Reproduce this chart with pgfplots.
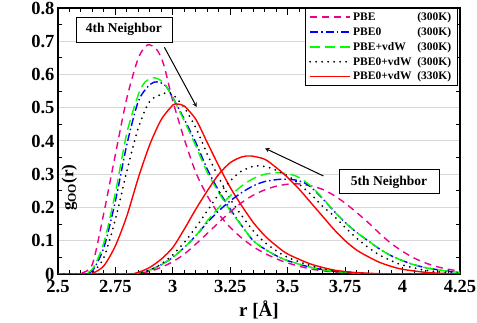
\documentclass[border=0pt]{standalone}
\usepackage{fontspec}
\setmainfont{Liberation Serif}
\usepackage{pgfplots}
\pgfplotsset{compat=1.18}

\definecolor{gridgray}{RGB}{215,215,215}

\begin{document}
\begin{tikzpicture}
\begin{axis}[
    scale only axis,
    width=402pt, height=266pt,
    xmin=2.5, xmax=4.25,
    ymin=0, ymax=0.8,
    xtick={2.5,2.75,3,3.25,3.5,3.75,4,4.25},
    xticklabels={2.5,2.75,3,3.25,3.5,3.75,4,4.25},
    ytick={0,0.1,0.2,0.3,0.4,0.5,0.6,0.7,0.8},
    yticklabels={0,0.1,0.2,0.3,0.4,0.5,0.6,0.7,0.8},
    minor x tick num=4,
    minor y tick num=1,
    ymajorgrids=true,
    major grid style={draw=gridgray, line width=1pt},
    major y tick style={draw=none},
    major tick length=7pt,
    minor tick length=4pt,
    tick style={black, line width=1pt},
    axis line style={line width=1.3pt},
    tick label style={font=\fontsize{18.5}{18.5}\selectfont\bfseries},
    /pgf/number format/assume math mode=true,
    xticklabel style={yshift=-3pt},
    xlabel={\textbf{r [Å]}},
    ylabel={\textbf{g}\textsubscript{\textbf{OO}}\textbf{(r)}},
    xlabel style={font=\fontsize{19}{19}\selectfont\bfseries,
        at={(axis description cs:0.5,0)}, anchor=north, yshift=-22.8pt},
    ylabel style={font=\fontsize{17}{17}\selectfont\bfseries,
        at={(axis description cs:0,0.52)}, anchor=north, xshift=-52pt},
    legend style={at={(0.994,1)}, anchor=north east, draw=black, line width=0.8pt,
        font=\fontsize{11.5}{12}\selectfont\bfseries, row sep=1.4pt,
        inner xsep=4pt, inner ysep=2pt},
    legend cell align=left,
    legend image code/.code={\draw[#1, sharp plot] (0pt,0pt) -- (40pt,0pt);},
    every axis plot/.append style={line width=1.4pt, smooth, tension=0.45},
]
\coordinate (bl) at (rel axis cs:0,0);
\coordinate (tr) at (rel axis cs:1,1);
% 4th neighbor
\addplot[magenta, dash pattern=on 7pt off 5pt] coordinates {
(2.5,0) (2.55,0) (2.6,0.002) (2.65,0.03) (2.7,0.185) (2.75,0.36) (2.8,0.53) (2.85,0.65) (2.89,0.689) (2.93,0.675) (2.96,0.63) (3.0,0.52) (3.05,0.405) (3.1,0.305) (3.15,0.235) (3.2,0.18) (3.25,0.14) (3.3,0.108) (3.35,0.082) (3.4,0.062) (3.45,0.046) (3.5,0.033) (3.6,0.015) (3.7,0.006) (3.8,0.002) (3.9,0) (4.25,0)
};
\addlegendentry{\makebox[98pt][l]{PBE\hfill(300K)}}
\addplot[blue, dash pattern=on 8pt off 3pt on 1.5pt off 3pt] coordinates {
(2.5,0) (2.6,0) (2.65,0.01) (2.7,0.08) (2.75,0.22) (2.8,0.39) (2.85,0.52) (2.9,0.57) (2.935,0.578) (2.97,0.565) (3.0,0.53) (3.05,0.465) (3.1,0.395) (3.15,0.315) (3.2,0.25) (3.25,0.195) (3.3,0.145) (3.35,0.1) (3.4,0.075) (3.45,0.055) (3.5,0.04) (3.6,0.02) (3.7,0.008) (3.8,0.003) (3.9,0) (4.25,0)
};
\addlegendentry{\makebox[98pt][l]{PBE0\hfill(300K)}}
\addplot[green, dash pattern=on 10pt off 5pt] coordinates {
(2.5,0) (2.6,0) (2.65,0.015) (2.7,0.095) (2.75,0.245) (2.8,0.425) (2.85,0.54) (2.88,0.578) (2.92,0.59) (2.96,0.575) (3.0,0.53) (3.05,0.46) (3.1,0.385) (3.15,0.305) (3.2,0.245) (3.25,0.19) (3.3,0.145) (3.35,0.1) (3.4,0.075) (3.45,0.055) (3.5,0.04) (3.6,0.02) (3.7,0.008) (3.8,0.003) (3.9,0) (4.25,0)
};
\addlegendentry{\makebox[98pt][l]{PBE+vdW\hfill(300K)}}
\addplot[black, line cap=round, line width=2pt, dash pattern=on 0pt off 6pt] coordinates {
(2.5,0) (2.6,0) (2.65,0.005) (2.7,0.05) (2.75,0.165) (2.8,0.31) (2.85,0.44) (2.9,0.52) (2.97,0.545) (3.0,0.54) (3.05,0.5) (3.1,0.44) (3.15,0.36) (3.2,0.29) (3.25,0.225) (3.3,0.175) (3.35,0.13) (3.4,0.095) (3.45,0.07) (3.5,0.05) (3.6,0.025) (3.7,0.01) (3.8,0.004) (3.9,0) (4.25,0)
};
\addlegendentry{\makebox[98pt][l]{PBE0+vdW\hfill(300K)}}
\addplot[red, solid] coordinates {
(2.5,0) (2.6,0) (2.65,0.002) (2.7,0.025) (2.75,0.085) (2.8,0.175) (2.85,0.29) (2.9,0.39) (2.95,0.465) (3.0,0.508) (3.02,0.511) (3.05,0.505) (3.1,0.465) (3.15,0.395) (3.2,0.325) (3.25,0.26) (3.3,0.205) (3.35,0.155) (3.4,0.115) (3.45,0.085) (3.5,0.06) (3.6,0.03) (3.7,0.012) (3.8,0.004) (3.9,0.001) (4.0,0) (4.25,0)
};
\addlegendentry{\makebox[98pt][l]{PBE0+vdW\hfill(330K)}}
% 5th neighbor
\addplot[magenta, dash pattern=on 7pt off 5pt, forget plot] coordinates {
(2.5,0) (2.8,0) (2.85,0.002) (2.9,0.008) (2.95,0.02) (3.0,0.037) (3.05,0.06) (3.1,0.09) (3.15,0.122) (3.2,0.155) (3.25,0.187) (3.3,0.215) (3.35,0.237) (3.4,0.253) (3.45,0.264) (3.5,0.27) (3.55,0.271) (3.6,0.265) (3.65,0.255) (3.7,0.237) (3.75,0.213) (3.8,0.185) (3.85,0.155) (3.9,0.122) (3.95,0.092) (4.0,0.068) (4.05,0.048) (4.1,0.033) (4.15,0.022) (4.2,0.014) (4.25,0.009)
};
\addplot[blue, dash pattern=on 8pt off 3pt on 1.5pt off 3pt, forget plot] coordinates {
(2.5,0) (2.8,0) (2.85,0.003) (2.9,0.012) (2.95,0.028) (3.0,0.05) (3.05,0.08) (3.1,0.115) (3.15,0.155) (3.2,0.19) (3.25,0.22) (3.3,0.245) (3.35,0.265) (3.4,0.278) (3.47,0.285) (3.53,0.283) (3.57,0.275) (3.6,0.262) (3.65,0.228) (3.7,0.19) (3.75,0.155) (3.8,0.125) (3.85,0.1) (3.9,0.075) (3.95,0.055) (4.0,0.04) (4.05,0.028) (4.1,0.019) (4.2,0.008) (4.25,0.005)
};
\addplot[green, dash pattern=on 10pt off 5pt, forget plot] coordinates {
(2.5,0) (2.8,0) (2.85,0.003) (2.9,0.012) (2.95,0.028) (3.0,0.05) (3.05,0.08) (3.1,0.115) (3.15,0.16) (3.2,0.2) (3.25,0.235) (3.3,0.265) (3.35,0.287) (3.4,0.3) (3.46,0.305) (3.52,0.298) (3.55,0.29) (3.6,0.265) (3.65,0.23) (3.7,0.19) (3.75,0.155) (3.8,0.125) (3.85,0.1) (3.9,0.075) (3.95,0.055) (4.0,0.04) (4.05,0.028) (4.1,0.019) (4.2,0.008) (4.25,0.005)
};
\addplot[black, line cap=round, line width=2pt, dash pattern=on 0pt off 6pt, forget plot] coordinates {
(2.5,0) (2.8,0) (2.85,0.003) (2.9,0.012) (2.95,0.03) (3.0,0.058) (3.05,0.095) (3.1,0.14) (3.15,0.19) (3.2,0.24) (3.25,0.28) (3.3,0.31) (3.36,0.325) (3.42,0.32) (3.5,0.295) (3.55,0.27) (3.6,0.24) (3.65,0.205) (3.7,0.175) (3.75,0.14) (3.8,0.108) (3.85,0.08) (3.9,0.057) (3.95,0.04) (4.0,0.027) (4.1,0.011) (4.2,0.004) (4.25,0.002)
};
\addplot[red, solid, forget plot] coordinates {
(2.5,0) (2.8,0) (2.85,0.005) (2.9,0.02) (2.95,0.045) (3.0,0.08) (3.05,0.135) (3.1,0.195) (3.15,0.25) (3.2,0.3) (3.25,0.335) (3.3,0.352) (3.34,0.355) (3.4,0.345) (3.45,0.32) (3.5,0.29) (3.55,0.255) (3.6,0.215) (3.65,0.175) (3.7,0.135) (3.75,0.1) (3.8,0.072) (3.85,0.052) (3.9,0.035) (3.95,0.023) (4.0,0.014) (4.1,0.005) (4.2,0.001) (4.25,0)
};
% annotations
\node[draw=black, fill=white, line width=0.8pt, minimum width=96pt, minimum height=25pt,
      font=\fontsize{13.5}{14}\selectfont\bfseries] at (axis cs:2.787,0.735) {4th Neighbor};
\node[draw=black, fill=white, line width=0.8pt, minimum width=100pt, minimum height=24pt,
      font=\fontsize{13.5}{14}\selectfont\bfseries] at (axis cs:3.941,0.277) {5th Neighbor};
\draw[-stealth, line width=1pt] (axis cs:2.963,0.682) -- (axis cs:3.104,0.502);
\draw[-stealth, line width=1pt] (axis cs:3.655,0.295) -- (axis cs:3.401,0.378);
\end{axis}
\pgfresetboundingbox
\path ([shift={(-58pt,-49pt)}]bl) rectangle ([shift={(17pt,8pt)}]tr);
\end{tikzpicture}
\end{document}
